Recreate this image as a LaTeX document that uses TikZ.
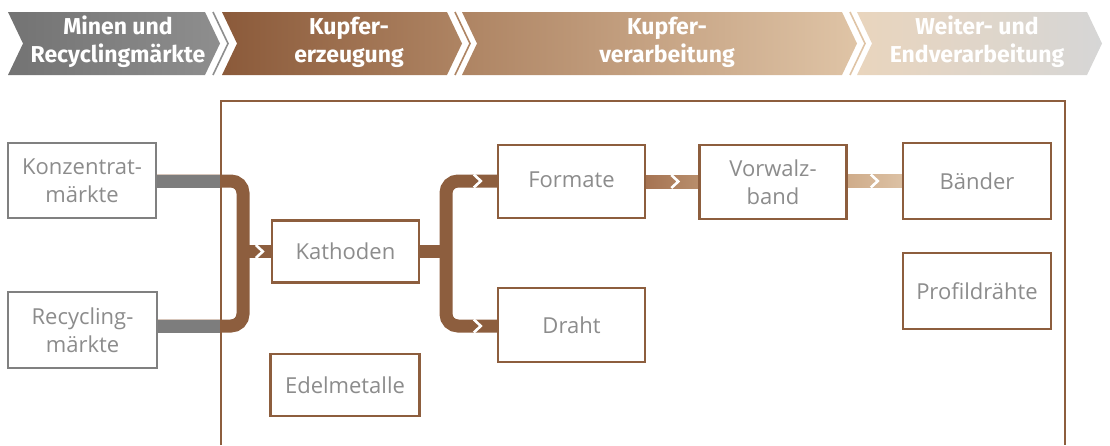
\documentclass[tikz,border=0pt]{standalone}
\usepackage{fontspec}
\setmainfont{Open Sans}
\newfontfamily\headfont{Fira Sans}
\usetikzlibrary{calc}
\pgfdeclarelayer{background}
\pgfsetlayers{background,main}

\definecolor{cubrown}{HTML}{8D5E3E}
\definecolor{boxgray}{HTML}{808080}
\definecolor{bargray}{HTML}{7D7D7D}
\definecolor{boxtext}{HTML}{8C8C8C}
\definecolor{hA}{HTML}{737373}
\definecolor{hB}{HTML}{8E8E8E}
\definecolor{hC}{HTML}{8B5A3A}
\definecolor{hD}{HTML}{AE8463}
\definecolor{hE}{HTML}{DFC4A6}
\definecolor{hF}{HTML}{E9D5BD}
\definecolor{hG}{HTML}{D6D6D6}
\definecolor{fA}{HTML}{A67453}
\definecolor{fB}{HTML}{B88E6C}
\definecolor{fC}{HTML}{CFAC8A}
\definecolor{fD}{HTML}{DCC1A4}

% header chevron: left x, right x, left colour, right colour
\newcommand\hdseg[4]{%
  \shade[left color=#3, right color=#4]
    (#1,12) -- (#2,12) -- ($(#2,12)+(15,31.5)$) -- (#2,75) -- (#1,75)
    -- ($(#1,12)+(15,31.5)$) -- cycle;}
% thin separator chevron after a segment ending at x
\newcommand\hdsep[2]{%
  \draw[#2, line width=1.6pt]
    ($(#1,12)+(8,0)$) -- ($(#1,12)+(23,31.5)$) -- ($(#1,75)+(8,0)$);}

\begin{document}
\begin{tikzpicture}[x=1pt, y=-1pt,
  box/.style={draw=cubrown, line width=2.4pt, fill=white, text=boxtext,
    font=\fontsize{22}{28}\selectfont, align=center, inner sep=0pt},
  graybox/.style={box, draw=boxgray},
  flow/.style={draw=cubrown, line width=13pt},
  notch/.style={draw=white, line width=2.6pt},
  head/.style={text=white, font=\headfont\bfseries\fontsize{23}{28}\selectfont,
    align=center, inner sep=0pt}]
\useasboundingbox (0,0) rectangle (1110,445);

% process stages
\hdseg{8}{205}{hA}{hB}
\hdsep{205}{hB}
\hdseg{222}{447}{hC}{hD}
\hdsep{447}{hD}
\hdseg{462}{842}{hD}{hE}
\hdsep{842}{hE}
\hdseg{857}{1087}{hF}{hG}

\node[head] (s1) at (118,42) {Minen und\\Recyclingmärkte};
\node[head] (s2) at (349,42) {Kupfer-\\erzeugung};
\node[head] (s3) at (667,42) {Kupfer-\\verarbeitung};
\node[head] (s4) at (977,42) {Weiter- und\\Endverarbeitung};

% frame of the company scope
\coordinate (fl) at (221,101);
\coordinate (fr) at (1065,101);
\draw[cubrown, line width=2.4pt] (fl |- 0,445) -- (fl) -- (fr) -- (fr |- 0,445);

% boxes
\node[graybox, minimum width=148pt, minimum height=75pt] (konz) at (82,180.5) {Konzentrat-\\märkte};
\node[graybox, minimum width=149pt, minimum height=76pt] (recy) at (82.5,330) {Recycling-\\märkte};
\node[box, minimum width=147pt, minimum height=62pt] (kath) at (345.5,251.5) {Kathoden};
\node[box, minimum width=149pt, minimum height=62pt] (edel) at (345,385) {Edelmetalle};
\node[box, minimum width=147pt, minimum height=73pt] (form) at (571.5,181.5) {\raisebox{3pt}{Formate}};
\node[box, minimum width=147pt, minimum height=74pt] (draht) at (571.5,325) {Draht};
\node[box, minimum width=147pt, minimum height=74pt] (vorw) at (773,182) {Vorwalz-\\band};
\node[box, minimum width=148pt, minimum height=76pt] (baend) at (977,181) {Bänder};
\node[box, minimum width=148pt, minimum height=76pt] (prof) at (977,291) {Profildrähte};

\begin{pgfonlayer}{background}
% markets into cathode production
\coordinate (k1) at (243,181);
\coordinate (k2) at (243,326);
\draw[flow, rounded corners=12pt] (konz.east |- k1) -- (k1) -- (k2) -- (recy.east |- k2);
\draw[flow, draw=bargray] (konz.east |- k1) -- (fl |- k1);
\draw[flow, draw=bargray] (recy.east |- k2) -- (fl |- k2);
\draw[flow] (k1 |- kath.west) -- (kath.west);
\draw[notch] ($(kath.west)+(-15,-6.5)$) -- ($(kath.west)+(-8,0)$) -- ($(kath.west)+(-15,6.5)$);

% cathodes into formats and wire
\coordinate (d1) at (446,181);
\coordinate (d2) at (446,326);
\draw[flow] (kath.east) -- (d1 |- kath.east);
\draw[flow, rounded corners=12pt] (form.west |- d1) -- (d1) -- (d2) -- (draht.west |- d2);
\draw[notch] ($(form.west |- d1)+(-23,-6.5)$) -- ($(form.west |- d1)+(-16,0)$) -- ($(form.west |- d1)+(-23,6.5)$);
\draw[notch] ($(draht.west |- d2)+(-23,-6.5)$) -- ($(draht.west |- d2)+(-16,0)$) -- ($(draht.west |- d2)+(-23,6.5)$);

% rolling chain
\shade[left color=fA, right color=fB] ($(form.east)+(0,-6.5)$) rectangle ($(vorw.west |- form.east)+(0,6.5)$);
\draw[notch] ($(vorw.west |- form.east)+(-27,-6.5)$) -- ($(vorw.west |- form.east)+(-20,0)$) -- ($(vorw.west |- form.east)+(-27,6.5)$);
\shade[left color=fC, right color=fD] ($(vorw.east |- baend.west)+(0,-6.5)$) rectangle ($(baend.west)+(0,6.5)$);
\draw[notch] ($(baend.west)+(-31,-6.5)$) -- ($(baend.west)+(-24,0)$) -- ($(baend.west)+(-31,6.5)$);
\end{pgfonlayer}
\end{tikzpicture}
\end{document}
